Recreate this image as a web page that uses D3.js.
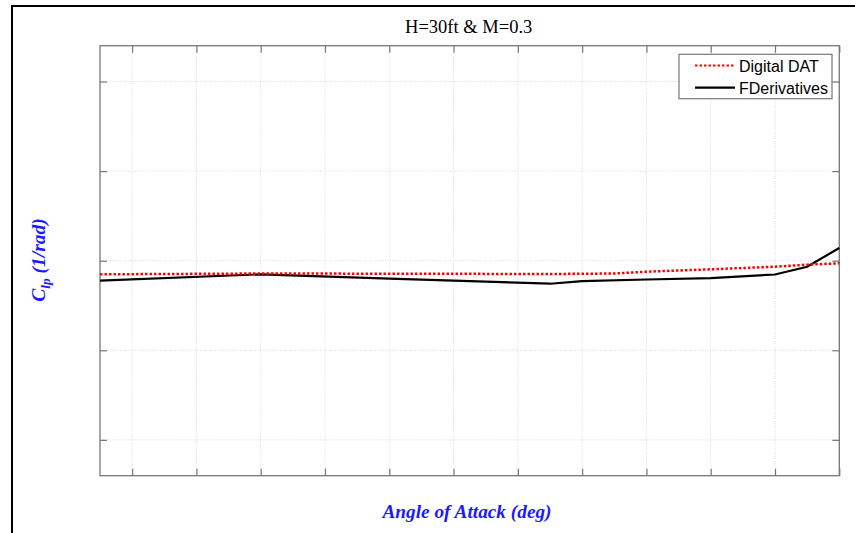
<!DOCTYPE html>
<html>
<head>
<meta charset="utf-8">
<script src="https://cdn.jsdelivr.net/npm/d3@7/dist/d3.min.js"></script>
<style>
html,body{margin:0;padding:0;background:#fff;}
svg{display:block;}
</style>
</head>
<body>
<svg id="chart" width="855" height="533"></svg>
<script>
// Data (tick labels are not shown in the reference)
const title = "H=30ft & M=0.3";
const xLabel = "Angle of Attack (deg)";
const xTicks = [-2, 0, 2, 4, 6, 8, 10, 12, 14, 16, 18, 20];
const yTicks = [-0.4, -0.2, 0, 0.2, 0.4];
const alphaDAT = [-3, 2, 6, 11, 13, 14, 16, 18, 19, 20];
const clpDAT = [-0.0304, -0.0286, -0.0290, -0.0297, -0.0286, -0.0246, -0.0192, -0.0134, -0.0089, -0.0058];
const alphaFD = [-3, 2, 6, 11, 12, 14, 16, 18, 19, 20];
const clpFD = [-0.0443, -0.0304, -0.0398, -0.0514, -0.0454, -0.0420, -0.0387, -0.0308, -0.0134, 0.0284];
const seriesNames = ["Digital DAT", "FDerivatives"];

const svg = d3.select("#chart");
const L = 100, R = 839.3, T = 45.7, B = 475.7;
const x = d3.scaleLinear().domain([-3, 20]).range([L, R]);
const y = d3.scaleLinear().domain([-0.48, 0.48]).range([B, T]);

// frame
svg.append("path").attr("d", `M12,533 L12,6 L855,6`).attr("fill","none").attr("stroke","#000").attr("stroke-width",2);

// grid
const g = svg.append("g");
g.selectAll(".gx").data(xTicks).enter().append("line")
  .attr("x1", d=>x(d)).attr("x2", d=>x(d)).attr("y1", T).attr("y2", B)
  .attr("stroke", "#cfcfcf").attr("stroke-width", 0.8).attr("stroke-dasharray", "1,1.5");
g.selectAll(".gy").data(yTicks).enter().append("line")
  .attr("x1", L).attr("x2", R).attr("y1", d=>y(d)).attr("y2", d=>y(d))
  .attr("stroke", "#cfcfcf").attr("stroke-width", 0.8).attr("stroke-dasharray", "1,1.5");

// axes (ticks inside, no labels)
const axCol = "#777";
function styleAxis(sel){
  sel.select(".domain").remove();
  sel.selectAll(".tick line").attr("stroke", axCol).attr("stroke-width", 1.2);
  sel.selectAll(".tick text").remove();
}
svg.append("g").attr("transform", `translate(0,${B})`).call(d3.axisBottom(x).tickValues(xTicks).tickSizeInner(-7).tickSizeOuter(0)).call(styleAxis);
svg.append("g").attr("transform", `translate(0,${T})`).call(d3.axisTop(x).tickValues(xTicks).tickSizeInner(-7).tickSizeOuter(0)).call(styleAxis);
svg.append("g").attr("transform", `translate(${L},0)`).call(d3.axisLeft(y).tickValues(yTicks).tickSizeInner(-7).tickSizeOuter(0)).call(styleAxis);
svg.append("g").attr("transform", `translate(${R},0)`).call(d3.axisRight(y).tickValues(yTicks).tickSizeInner(-7).tickSizeOuter(0)).call(styleAxis);
svg.append("rect").attr("x", L).attr("y", T).attr("width", R-L).attr("height", B-T)
  .attr("fill","none").attr("stroke", axCol).attr("stroke-width", 1.3);

// lines
const line = d3.line().x(d=>x(d[0])).y(d=>y(d[1]));
const dFD = alphaFD.map((a,i)=>[a, clpFD[i]]);
const dDAT = alphaDAT.map((a,i)=>[a, clpDAT[i]]);
svg.append("path").datum(dFD).attr("d", line).attr("fill","none").attr("stroke","#000").attr("stroke-width",2.2);
svg.append("path").datum(dDAT).attr("d", line).attr("fill","none").attr("stroke","#ff0000").attr("stroke-width",2.5).attr("stroke-dasharray","2.5,2");

// legend
const lg = svg.append("g");
lg.append("rect").attr("x", 679).attr("y", 54.3).attr("width", 153).attr("height", 44.4)
  .attr("fill","#fff").attr("stroke","#777").attr("stroke-width",1.2);
lg.append("line").attr("x1",695).attr("x2",735).attr("y1",65.5).attr("y2",65.5)
  .attr("stroke","#ff0000").attr("stroke-width",2.2).attr("stroke-dasharray","2.5,2");
lg.append("line").attr("x1",695).attr("x2",735).attr("y1",87.7).attr("y2",87.7)
  .attr("stroke","#000").attr("stroke-width",2.2);
lg.append("text").attr("x",739).attr("y",71.5).text(seriesNames[0])
  .attr("font-family","Liberation Sans, Arial, sans-serif").attr("font-size",16).attr("fill","#000");
lg.append("text").attr("x",739).attr("y",93.5).text(seriesNames[1])
  .attr("font-family","Liberation Sans, Arial, sans-serif").attr("font-size",16).attr("fill","#000");

// title
svg.append("text").attr("x", (L+R)/2 - 1).attr("y", 32.5).attr("text-anchor","middle")
  .attr("font-family","Liberation Serif, Times New Roman, serif").attr("font-size",18.5).attr("fill","#000").text(title);

// x label
svg.append("text").attr("x", 467).attr("y", 518).attr("text-anchor","middle")
  .attr("font-family","Liberation Serif, Times New Roman, serif").attr("font-size",19.3)
  .attr("font-weight","bold").attr("font-style","italic").attr("fill","#1a1aff").text(xLabel);

// y label
const yl = svg.append("text").attr("transform","translate(45,260) rotate(-90)").attr("text-anchor","middle")
  .attr("font-family","Liberation Serif, Times New Roman, serif").attr("font-size",19.5)
  .attr("font-weight","bold").attr("font-style","italic").attr("fill","#1a1aff");
yl.append("tspan").text("C");
yl.append("tspan").attr("font-size",13.5).attr("dy",5).text("lp");
yl.append("tspan").attr("dy",-5).text(" (1/rad)");
</script>
</body>
</html>
